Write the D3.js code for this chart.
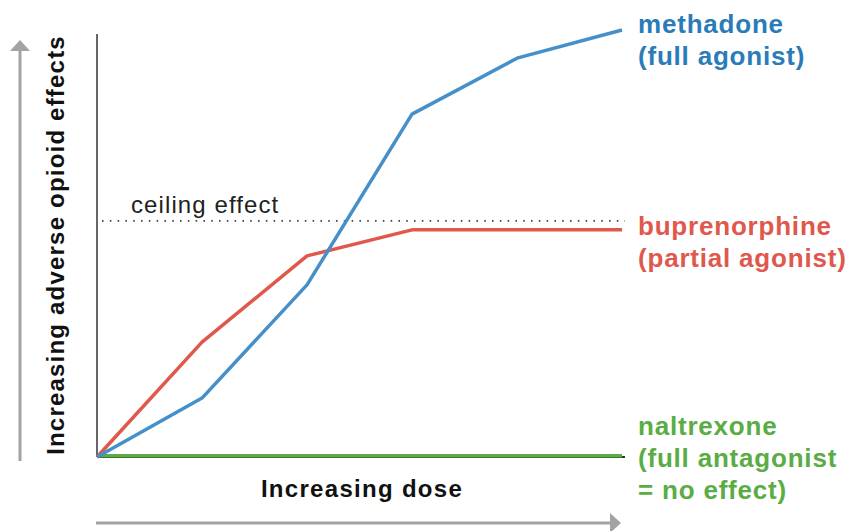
<!DOCTYPE html>
<html>
<head>
<meta charset="utf-8">
<script src="https://cdn.jsdelivr.net/npm/d3@7"></script>
<style>
  body { margin: 0; background: #fff; }
  text { font-family: "Liberation Sans", Arial, sans-serif; }
</style>
</head>
<body>
<svg width="847" height="531"></svg>
<script>
// dose steps and effect values (0-100 scale)
var doses = [0, 1, 2, 3, 4, 5];
var methadone = [0, 13.8, 40.3, 80.3, 93.4, 100];
var buprenorphine = [0, 26.9, 47.1, 53.2, 53.2, 53.2];
var naltrexone = [0.3, 0.3, 0.3, 0.3, 0.3, 0.3];
var ceiling = 55.3;

var svg = d3.select("svg");

var x = d3.scaleLinear().domain([0, 5]).range([97, 622]);
var y = d3.scaleLinear().domain([0, 100]).range([457, 30]);

var line = d3.line()
    .x(function(d, i) { return x(doses[i]); })
    .y(function(d) { return y(d); });

// axes (plain lines, no ticks)
svg.append("line")
    .attr("x1", x(0)).attr("x2", x(0))
    .attr("y1", 34).attr("y2", y(0))
    .attr("stroke", "#333").attr("stroke-width", 1.5);
svg.append("line")
    .attr("x1", x(0)).attr("x2", 625)
    .attr("y1", y(0)).attr("y2", y(0))
    .attr("stroke", "#2b3a22").attr("stroke-width", 2);

// ceiling effect
svg.append("line")
    .attr("x1", x(0) + 5).attr("x2", 625)
    .attr("y1", y(ceiling)).attr("y2", y(ceiling))
    .attr("stroke", "#444").attr("stroke-width", 1.6)
    .attr("stroke-dasharray", "1.6,6.2");
svg.append("text")
    .attr("x", 131).attr("y", 213)
    .attr("font-size", 24).attr("letter-spacing", 1.1).attr("fill", "#222")
    .text("ceiling effect");

// series
var series = [
  { values: naltrexone, color: "#5aac44" },
  { values: buprenorphine, color: "#e0584c" },
  { values: methadone, color: "#4590c8" }
];
svg.selectAll("path.series")
    .data(series)
    .enter().append("path")
      .attr("class", "series")
      .attr("d", function(d) { return line(d.values); })
      .attr("fill", "none")
      .attr("stroke", function(d) { return d.color; })
      .attr("stroke-width", 3.5)
      .attr("stroke-linejoin", "round");

// labels
var labels = [
  { lines: ["methadone", "(full agonist)"], y: 33, color: "#2a7cb9" },
  { lines: ["buprenorphine", "(partial agonist)"], y: 235, color: "#e0584c" },
  { lines: ["naltrexone", "(full antagonist", "= no effect)"], y: 435, color: "#5aac44" }
];
labels.forEach(function(l) {
  var t = svg.append("text")
      .attr("x", 638).attr("y", l.y)
      .attr("font-size", 26).attr("font-weight", "bold")
      .attr("letter-spacing", 0.8)
      .attr("fill", l.color);
  l.lines.forEach(function(s, i) {
    t.append("tspan").attr("x", 638).attr("dy", i ? 32 : 0).text(s);
  });
});

// axis titles
svg.append("text")
    .attr("transform", "translate(64,245) rotate(-90)")
    .attr("text-anchor", "middle")
    .attr("font-size", 24).attr("font-weight", "bold")
    .attr("letter-spacing", 1.2).attr("fill", "#111")
    .text("Increasing adverse opioid effects");
svg.append("text")
    .attr("x", 362).attr("y", 497)
    .attr("text-anchor", "middle")
    .attr("font-size", 24).attr("font-weight", "bold")
    .attr("letter-spacing", 1.3).attr("fill", "#111")
    .text("Increasing dose");

// arrows
var grey = "#a3a3a5";
svg.append("line")
    .attr("x1", 20).attr("x2", 20).attr("y1", 461).attr("y2", 50)
    .attr("stroke", grey).attr("stroke-width", 3);
svg.append("path")
    .attr("d", "M10,51 L30,51 L20,40 Z").attr("fill", grey);
svg.append("line")
    .attr("x1", 96).attr("x2", 611).attr("y1", 523).attr("y2", 523)
    .attr("stroke", grey).attr("stroke-width", 3);
svg.append("path")
    .attr("d", "M610,513 L610,533 L621,523 Z").attr("fill", grey);
</script>
</body>
</html>
